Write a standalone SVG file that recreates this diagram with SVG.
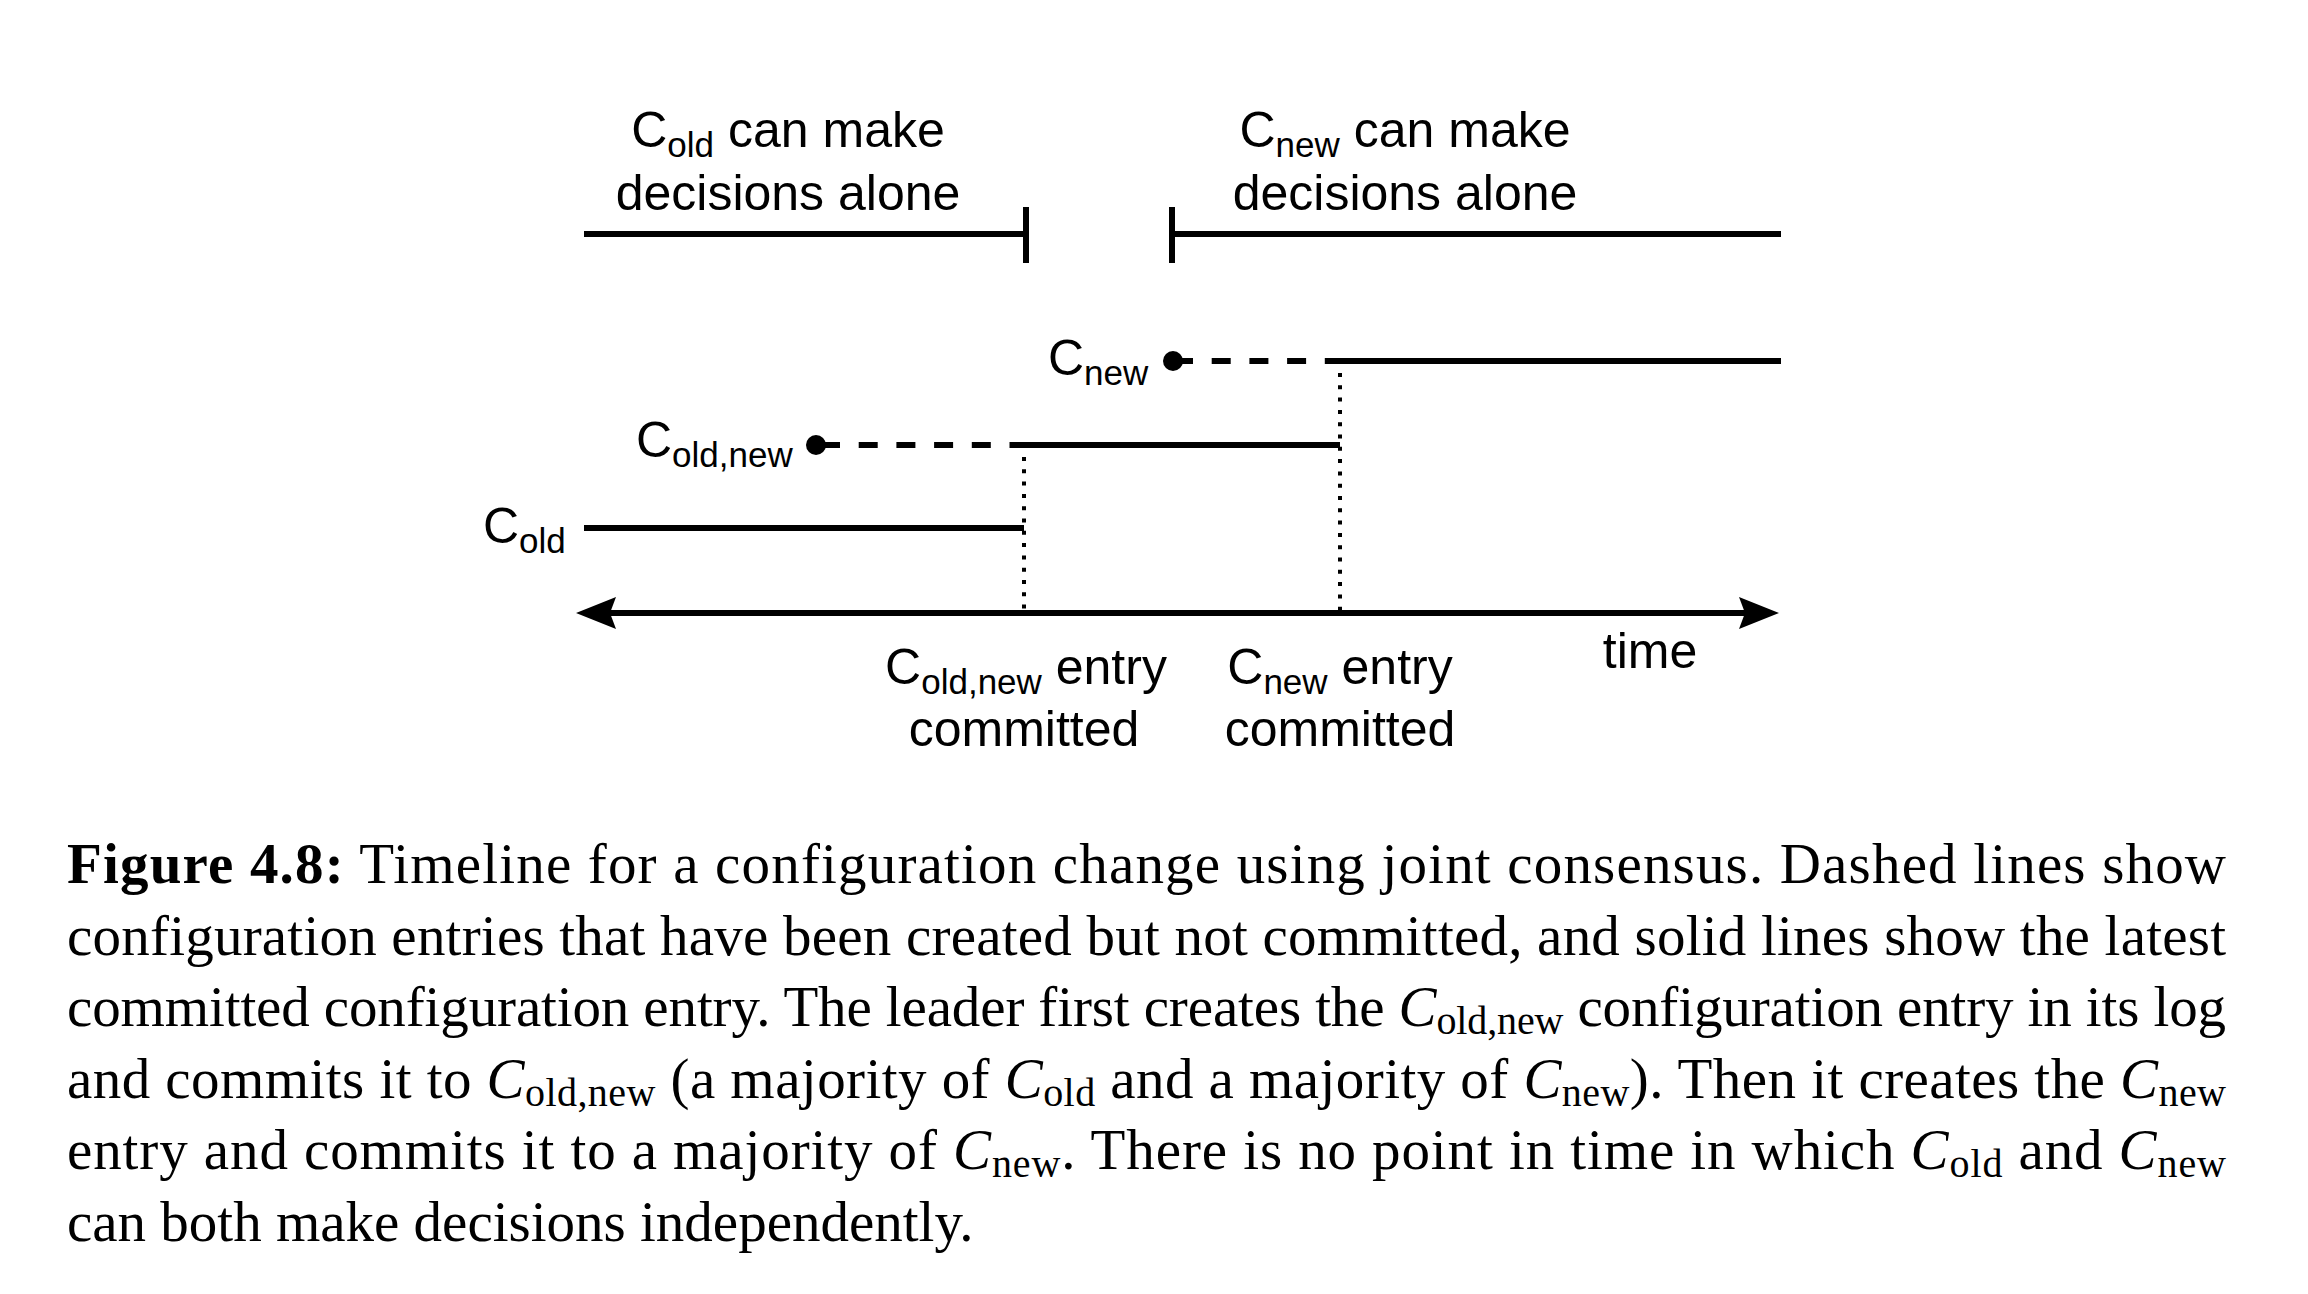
<svg xmlns="http://www.w3.org/2000/svg" width="2308" height="1294" viewBox="0 0 2308 1294">
<style>
.lbl{font-family:"Liberation Sans",Arial,sans-serif;font-size:50px;fill:#000}
.sub{font-size:35px}
.solid{stroke:#000;stroke-width:6;fill:none}
.dash{stroke:#000;stroke-width:6;fill:none;stroke-dasharray:19 18.7}
.dot{stroke:#000;stroke-width:4;fill:none;stroke-dasharray:4 8.3}
.cap{font-family:"Liberation Serif","Times New Roman",serif;font-size:57px;fill:#000}
.it{font-style:italic}
.cs{font-size:40px}
</style>
<rect width="2308" height="1294" fill="#fff"/>
<g id="connectors">
  <line class="solid" x1="584" y1="234" x2="1026" y2="234"/>
  <line class="solid" x1="1026" y1="207" x2="1026" y2="263"/>
  <line class="solid" x1="1172" y1="234" x2="1781" y2="234"/>
  <line class="solid" x1="1172" y1="207" x2="1172" y2="263"/>
  <line class="solid" x1="584" y1="528" x2="1024" y2="528"/>
  <line class="dash" x1="821" y1="445" x2="1024" y2="445"/>
  <line class="solid" x1="1024" y1="445" x2="1340" y2="445"/>
  <line class="dash" x1="1174" y1="361" x2="1340" y2="361"/>
  <line class="solid" x1="1340" y1="361" x2="1781" y2="361"/>
  <line class="dot" x1="1024" y1="457" x2="1024" y2="612"/>
  <line class="dot" x1="1340" y1="373" x2="1340" y2="612"/>
  <line class="solid" x1="605" y1="613" x2="1750" y2="613"/>
  <path d="M576,613 L616,597 L610,613 L616,629 Z" fill="#000"/>
  <path d="M1779,613 L1739,597 L1745,613 L1739,629 Z" fill="#000"/>
  <circle cx="816" cy="445" r="10" fill="#000"/>
  <circle cx="1173" cy="361" r="10" fill="#000"/>
</g>
<g id="label-cold-alone">
  <text class="lbl" x="788" y="147" text-anchor="middle">C<tspan class="sub" dy="10">old</tspan><tspan dy="-10"> can make</tspan></text>
  <text class="lbl" x="788" y="210" text-anchor="middle">decisions alone</text>
</g>
<g id="label-cnew-alone">
  <text class="lbl" x="1405" y="147" text-anchor="middle">C<tspan class="sub" dy="10">new</tspan><tspan dy="-10"> can make</tspan></text>
  <text class="lbl" x="1405" y="210" text-anchor="middle">decisions alone</text>
</g>
<g id="node-cnew">
  <text class="lbl" x="1048" y="375">C<tspan class="sub" dy="10">new</tspan></text>
</g>
<g id="node-coldnew">
  <text class="lbl" x="636" y="457">C<tspan class="sub" dy="10">old,new</tspan></text>
</g>
<g id="node-cold">
  <text class="lbl" x="483" y="543">C<tspan class="sub" dy="10">old</tspan></text>
</g>
<g id="label-coldnew-committed">
  <text class="lbl" x="1026" y="684" text-anchor="middle">C<tspan class="sub" dy="10">old,new</tspan><tspan dy="-10"> entry</tspan></text>
  <text class="lbl" x="1024" y="746" text-anchor="middle">committed</text>
</g>
<g id="label-cnew-committed">
  <text class="lbl" x="1340" y="684" text-anchor="middle">C<tspan class="sub" dy="10">new</tspan><tspan dy="-10"> entry</tspan></text>
  <text class="lbl" x="1340" y="746" text-anchor="middle">committed</text>
</g>
<g id="label-time">
  <text class="lbl" x="1650" y="668" text-anchor="middle">time</text>
</g>
<g id="caption">
  <text class="cap" x="67" y="883" textLength="2159" lengthAdjust="spacing"><tspan font-weight="bold">Figure 4.8:</tspan> Timeline for a configuration change using joint consensus. Dashed lines show</text>
  <text class="cap" x="67" y="954.5" textLength="2159" lengthAdjust="spacing">configuration entries that have been created but not committed, and solid lines show the latest</text>
  <text class="cap" x="67" y="1026" textLength="2159" lengthAdjust="spacing">committed configuration entry. The leader first creates the <tspan class="it">C</tspan><tspan class="cs" dy="8">old,new</tspan><tspan dy="-8"> configuration entry in its log</tspan></text>
  <text class="cap" x="67" y="1097.5" textLength="2159" lengthAdjust="spacing">and commits it to <tspan class="it">C</tspan><tspan class="cs" dy="8">old,new</tspan><tspan dy="-8"> (a majority of </tspan><tspan class="it">C</tspan><tspan class="cs" dy="8">old</tspan><tspan dy="-8"> and a majority of </tspan><tspan class="it">C</tspan><tspan class="cs" dy="8">new</tspan><tspan dy="-8">). Then it creates the </tspan><tspan class="it">C</tspan><tspan class="cs" dy="8">new</tspan></text>
  <text class="cap" x="67" y="1169" textLength="2159" lengthAdjust="spacing">entry and commits it to a majority of <tspan class="it">C</tspan><tspan class="cs" dy="8">new</tspan><tspan dy="-8">. There is no point in time in which </tspan><tspan class="it">C</tspan><tspan class="cs" dy="8">old</tspan><tspan dy="-8"> and </tspan><tspan class="it">C</tspan><tspan class="cs" dy="8">new</tspan></text>
  <text class="cap" x="67" y="1240.5">can both make decisions independently.</text>
</g>
</svg>
